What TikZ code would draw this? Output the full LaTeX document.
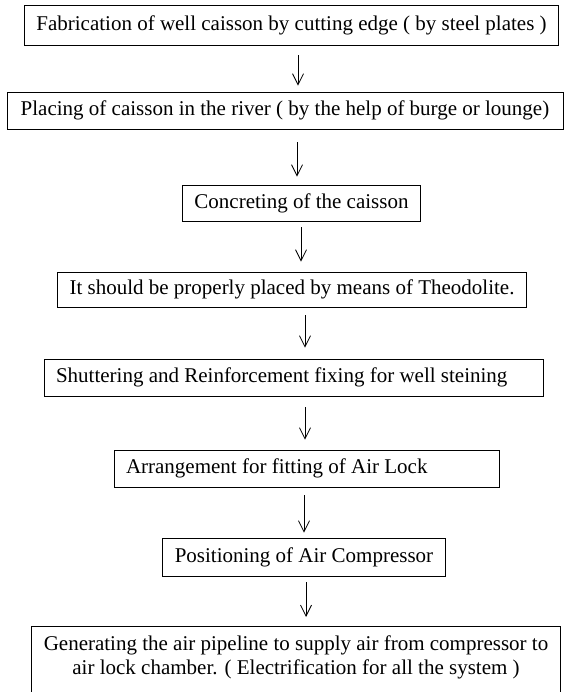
\documentclass[tikz,border=0pt]{standalone}
\usepackage{fontspec}
\setmainfont{Liberation Serif}
\usetikzlibrary{arrows.meta}
\begin{document}
\begin{tikzpicture}[x=1pt,y=-1pt,
  stage/.style={draw,line width=0.9pt,minimum height=37pt,inner xsep=12pt,inner ysep=0pt,font=\fontsize{21}{24}\selectfont},
  flow/.style={line width=0.8pt,-{Straight Barb[length=11pt,width=11pt]}}]
\useasboundingbox (0,0) rectangle (565,692);
\clip (0,0) rectangle (565,692);
\node[stage,minimum width=531pt,minimum height=40pt] (fab) at (291.5,25) {Fabrication of well caisson by cutting edge ( by steel plates )};
\node[stage,minimum width=556pt] (place) at (285,110.5) {Placing of caisson in the river ( by the help of burge or lounge)};
\node[stage,minimum width=237pt,minimum height=36pt] (conc) at (301.5,203) {Concreting of the caisson};
\node[stage,minimum width=468pt,minimum height=35pt] (theo) at (292,289.5) {It should be properly placed by means of Theodolite.};
\node[stage] (shut) at (293.5,377.5) {\makebox[475pt][l]{Shuttering and Reinforcement fixing for well steining}};
\node[stage] (lock) at (306.5,468.5) {\makebox[361pt][l]{Arrangement for fitting of Air Lock}};
\node[stage,minimum width=280pt,minimum height=38pt] (comp) at (304,557) {Positioning of Air Compressor};
\node[stage,anchor=north,minimum width=522pt,align=center,inner ysep=9pt,text depth=50pt] (pipe) at (296,626) {Generating the air pipeline to supply air from compressor to\\air lock chamber. ( Electrification for all the system )};
\foreach \a/\b/\x/\s/\e in {fab/place/298/10/6,place/conc/297/13/8,conc/theo/301/6/10,theo/shut/305/8/11,shut/lock/305/11/10,lock/comp/304/8/5,comp/pipe/306/6/9}
  \draw[flow,shorten <=\s pt,shorten >=\e pt] (\a.south -| \x,0) -- (\b.north -| \x,0);
\end{tikzpicture}
\end{document}
